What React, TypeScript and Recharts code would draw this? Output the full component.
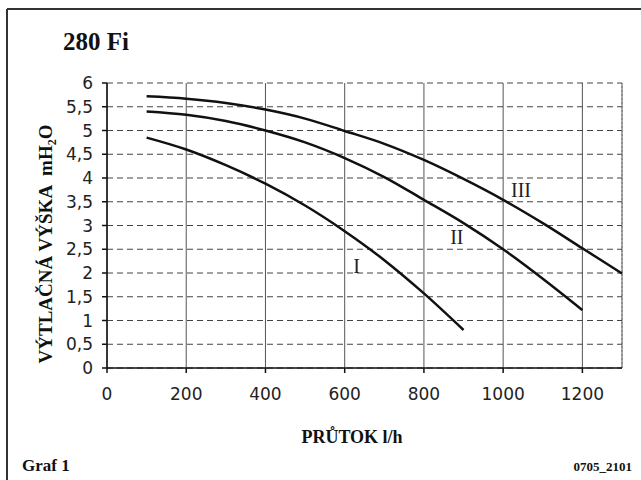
import {
  LineChart,
  Line,
  XAxis,
  YAxis,
  CartesianGrid,
  ReferenceLine,
  ReferenceDot,
} from 'recharts';

// průtok l/h
const flow = [100, 200, 300, 400, 500, 600, 700, 800, 900, 1000, 1100, 1200, 1300];
// výtlačná výška mH2O pre rýchlosti I, II, III
const curveI = [4.85, 4.6, 4.27, 3.88, 3.42, 2.88, 2.27, 1.57, 0.8];
const curveII = [5.4, 5.33, 5.2, 5.0, 4.75, 4.42, 4.02, 3.54, 3.05, 2.5, 1.88, 1.22];
const curveIII = [5.72, 5.67, 5.58, 5.44, 5.25, 4.99, 4.72, 4.38, 3.98, 3.54, 3.05, 2.52, 1.99];

const xTicks = [0, 200, 400, 600, 800, 1000, 1200];
const yTicks = [0, 0.5, 1, 1.5, 2, 2.5, 3, 3.5, 4, 4.5, 5, 5.5, 6];

// popisky kriviek
const curveLabels = [
  { name: 'I', x: 630, y: 2.15 },
  { name: 'II', x: 883, y: 2.76 },
  { name: 'III', x: 1045, y: 3.75 },
];

const data = flow.map((q, i) => ({
  q,
  I: curveI[i] ?? null,
  II: curveII[i] ?? null,
  III: curveIII[i] ?? null,
}));

const serif = '"Liberation Serif", "Times New Roman", serif';
const sans = '"DejaVu Sans", Verdana, sans-serif';

const fmt = (v: number) => String(v).replace('.', ',');

const App = () => {
  return (
    <div style={{ position: 'absolute', left: 0, top: 0, width: 641, height: 480, background: '#fff' }}>
      <LineChart
        width={641}
        height={480}
        data={data}
        margin={{ top: 83, right: 19, bottom: 82, left: 0 }}
      >
        <CartesianGrid horizontal={false} stroke="#555" strokeWidth={1} />
        <CartesianGrid vertical={false} stroke="#444" strokeDasharray="6 4" strokeWidth={1} />
        <ReferenceLine x={1300} stroke="#777" strokeDasharray="2 2" />
        <XAxis
          dataKey="q"
          type="number"
          domain={[0, 1300]}
          ticks={xTicks}
          interval={0}
          height={30}
          stroke="#111"
          strokeWidth={1.5}
          tickSize={5}
          tickMargin={15}
          tick={{ fill: '#222', fontSize: 17, fontFamily: sans }}
        />
        <YAxis
          type="number"
          domain={[0, 6]}
          ticks={yTicks}
          interval={0}
          width={107}
          stroke="#111"
          strokeWidth={1.5}
          tickSize={5}
          tickMargin={9}
          tickFormatter={fmt}
          tick={{ fill: '#222', fontSize: 17, fontFamily: sans }}
        />
        {['I', 'II', 'III'].map((k) => (
          <Line
            key={k}
            dataKey={k}
            type="monotone"
            stroke="#111"
            strokeWidth={2.5}
            dot={false}
            connectNulls={false}
            isAnimationActive={false}
          />
        ))}
        {curveLabels.map((l) => (
          <ReferenceDot
            key={l.name}
            x={l.x}
            y={l.y}
            r={0}
            fill="none"
            stroke="none"
            label={{ value: l.name, position: 'center', fill: '#222', fontSize: 20, fontFamily: serif }}
          />
        ))}
      </LineChart>
      <svg
        width={641}
        height={480}
        style={{ position: 'absolute', left: 0, top: 0, pointerEvents: 'none' }}
      >
        <line x1={7} y1={9} x2={641} y2={9} stroke="#333" strokeWidth={2} />
        <line x1={7} y1={9} x2={7} y2={480} stroke="#333" strokeWidth={2} />
        <text x={63} y={50} fontFamily={serif} fontWeight="bold" fontSize={25} fill="#111">
          280 Fi
        </text>
        <text
          transform="translate(52 244) rotate(-90)"
          textAnchor="middle"
          fontFamily={serif}
          fontWeight="bold"
          fontSize={19}
          fill="#111"
        >
          VÝTLAČNÁ VÝŠKA
          <tspan dx={9}>mH</tspan>
          <tspan fontSize={12} dy={4}>2</tspan>
          <tspan dy={-4}>O</tspan>
        </text>
        <text x={352} y={443} textAnchor="middle" fontFamily={serif} fontWeight="bold" fontSize={18} fill="#111">
          PRŮTOK l/h
        </text>
        <text x={22} y={471} fontFamily={serif} fontWeight="bold" fontSize={17} fill="#111">
          Graf 1
        </text>
        <text x={632} y={471} textAnchor="end" fontFamily={serif} fontWeight="bold" fontSize={13} fill="#111">
          0705_2101
        </text>
      </svg>
    </div>
  );
};

export default App;
